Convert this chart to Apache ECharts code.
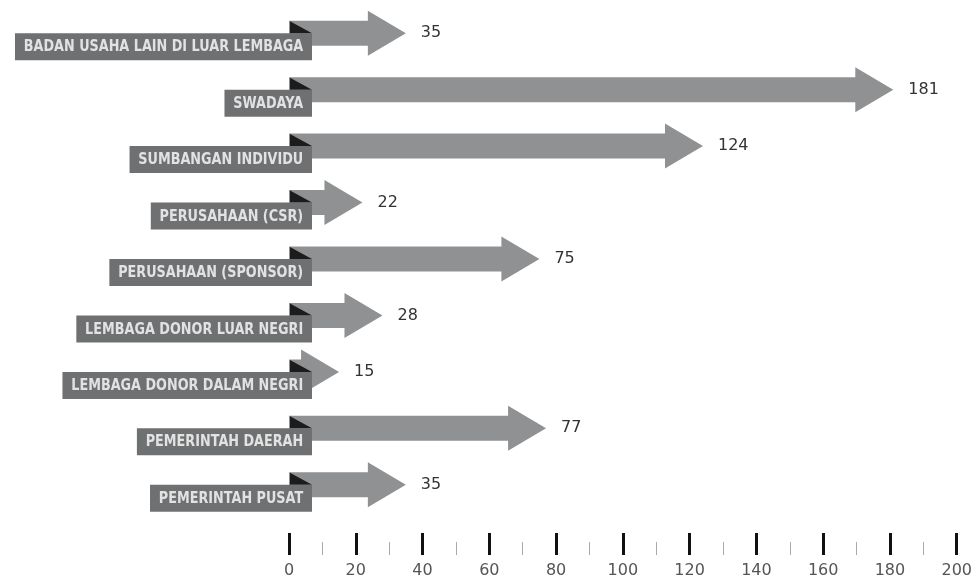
<!DOCTYPE html>
<html>
<head>
<meta charset="utf-8">
<script src="https://cdn.jsdelivr.net/npm/echarts@6/dist/echarts.min.js"></script>
<style>
html, body { margin: 0; padding: 0; background: #fff; }
#chart { width: 975px; height: 580px; }
</style>
</head>
<body>
<div id="chart"></div>
<script>
// sumber dana, urutan dari atas ke bawah
const categories = [
  'BADAN USAHA LAIN DI LUAR LEMBAGA',
  'SWADAYA',
  'SUMBANGAN INDIVIDU',
  'PERUSAHAAN (CSR)',
  'PERUSAHAAN (SPONSOR)',
  'LEMBAGA DONOR LUAR NEGRI',
  'LEMBAGA DONOR DALAM NEGRI',
  'PEMERINTAH DAERAH',
  'PEMERINTAH PUSAT'
]
const values = [35, 181, 124, 22, 75, 28, 15, 77, 35]

const arrowColor = '#8f9193'
const boxColor = '#6f7071'

let chart = echarts.init(document.getElementById('chart'))

const seriesData = values.map((v, i) => [v, i])

// panah: badan + kepala segitiga
const renderArrow = (params, api) => {
  const v = api.value(0)
  const c = api.value(1)
  const tip = api.coord([v, c])
  const base = api.coord([0, c])
  const headLen = 38, bh = 12.5, hh = 22.5
  const hx = Math.max(base[0], tip[0] - headLen)
  const y = tip[1]
  return {
    type: 'group',
    children: [
      {
        type: 'polygon',
        shape: {
          points: [
            [base[0], y - bh], [hx, y - bh], [hx, y - hh], [tip[0], y],
            [hx, y + hh], [hx, y + bh], [base[0], y + bh]
          ]
        },
        style: { fill: arrowColor }
      },
      {
        type: 'text',
        x: tip[0] + 15,
        y: y,
        style: {
          text: String(v),
          fill: '#333',
          font: '16px "DejaVu Sans", sans-serif',
          verticalAlign: 'middle'
        }
      }
    ]
  }
}

// kotak label kategori dengan lipatan hitam di pojok
// teks dipadatkan pakai scaleX (font condensed tidak tersedia)
const renderLabel = (params, api) => {
  const c = api.value(1)
  const base = api.coord([0, c])
  const right = base[0] + 23
  const y = base[1]
  return {
    type: 'group',
    children: [
      {
        type: 'polygon',
        shape: { points: [[base[0] + 1, y - 12], [right, y], [base[0] + 1, y]] },
        style: { fill: '#1c1c1c' }
      },
      {
        type: 'text',
        x: right,
        y: y,
        scaleX: 0.8,
        style: {
          text: categories[c],
          fill: '#e2e2e2',
          font: 'bold 16px "DejaVu Sans", sans-serif',
          align: 'right',
          verticalAlign: 'top',
          backgroundColor: boxColor,
          padding: [6, 11, 5, 11],
          lineHeight: 16
        }
      }
    ]
  }
}

let option = {
  animation: false,
  grid: { left: 289, right: 17, top: 5, height: 508 },
  xAxis: {
    type: 'value',
    min: 0,
    max: 200,
    interval: 20,
    offset: 42,
    axisLine: { show: false },
    splitLine: { show: false },
    axisTick: { show: true, inside: true, length: 22, lineStyle: { color: '#111', width: 3 } },
    minorTick: { show: true, splitNumber: 2, length: 13, lineStyle: { color: '#aaa', width: 1 } },
    axisLabel: { margin: 8, color: '#555', fontSize: 16, fontFamily: '"DejaVu Sans", sans-serif' }
  },
  yAxis: {
    type: 'category',
    data: categories,
    inverse: true,
    show: false
  },
  series: [
    {
      type: 'custom',
      renderItem: renderArrow,
      encode: { x: 0, y: 1 },
      data: seriesData,
      z: 2
    },
    {
      type: 'custom',
      renderItem: renderLabel,
      encode: { x: 0, y: 1 },
      data: seriesData,
      z: 3
    }
  ]
}

chart.setOption(option, true)
</script>
</body>
</html>
